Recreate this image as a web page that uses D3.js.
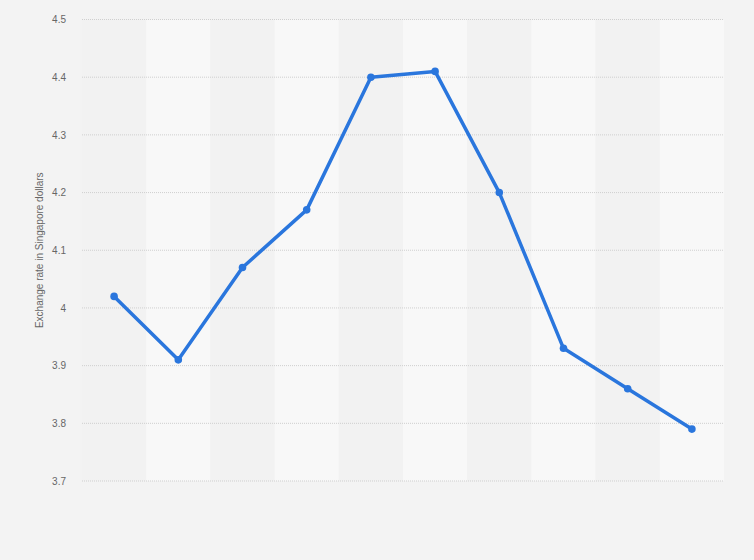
<!DOCTYPE html>
<html><head><meta charset="utf-8">
<script src="https://cdn.jsdelivr.net/npm/d3@7"></script>
<style>
html,body{margin:0;padding:0;background:#f3f3f3;}
svg{display:block;font-family:"Liberation Sans",Arial,sans-serif;}
</style></head>
<body>
<svg id="chart" width="754" height="560"></svg>
<script>
const categories = ["1","2","3","4","5","6","7","8","9","10"];
const values = [4.02, 3.91, 4.07, 4.17, 4.40, 4.41, 4.20, 3.93, 3.86, 3.79];
const yTicks = [3.7, 3.8, 3.9, 4, 4.1, 4.2, 4.3, 4.4, 4.5];
const yTitle = "Exchange rate in Singapore dollars";

(function(){
const svg = d3.select("#chart");
const mLeft = 82, mRight = 724, mTop = 19.5, mBottom = 481;

const x = d3.scaleBand().domain(categories).range([mLeft, mRight]).padding(0);
const y = d3.scaleLinear().domain([3.7, 4.5]).range([mBottom, mTop]);

svg.append("rect").attr("width",754).attr("height",560).attr("fill","#f3f3f3");

// alternating bands
svg.append("g").selectAll("rect").data(categories).join("rect")
  .attr("x", d => x(d)).attr("y", mTop)
  .attr("width", x.bandwidth()).attr("height", mBottom - mTop)
  .attr("fill", (d,i) => i % 2 === 1 ? "#f8f8f8" : "#f2f2f2");

// y axis labels
const yAxis = d3.axisLeft(y).tickValues(yTicks).tickFormat(d3.format("~g")).tickSize(0).tickPadding(0);
const ga = svg.append("g").attr("transform", `translate(${mLeft-16},0)`).call(yAxis);
ga.select(".domain").remove();
ga.selectAll("text").attr("fill","#666").attr("font-size","10px");

// grid
svg.append("g").selectAll("line").data(yTicks).join("line")
  .attr("x1", mLeft).attr("x2", mRight)
  .attr("y1", d => y(d)).attr("y2", d => y(d))
  .attr("stroke","#cfcfcf").attr("stroke-width",1).attr("stroke-dasharray","1,1");

svg.append("text")
  .attr("transform", `translate(43,${(mTop+mBottom)/2}) rotate(-90)`)
  .attr("text-anchor","middle").attr("fill","#666").attr("font-size","10px")
  .text(yTitle);

const cx = d => x(d) + x.bandwidth()/2;
const line = d3.line().x((d,i) => cx(categories[i])).y(d => y(d));
svg.append("path").datum(values).attr("d", line)
  .attr("fill","none").attr("stroke","#2a76dd").attr("stroke-width",3.5)
  .attr("stroke-linejoin","round");

svg.append("g").selectAll("circle").data(values).join("circle")
  .attr("cx", (d,i) => cx(categories[i])).attr("cy", d => y(d)).attr("r", 3.8)
  .attr("fill","#2a76dd");
})();
</script>
</body></html>
